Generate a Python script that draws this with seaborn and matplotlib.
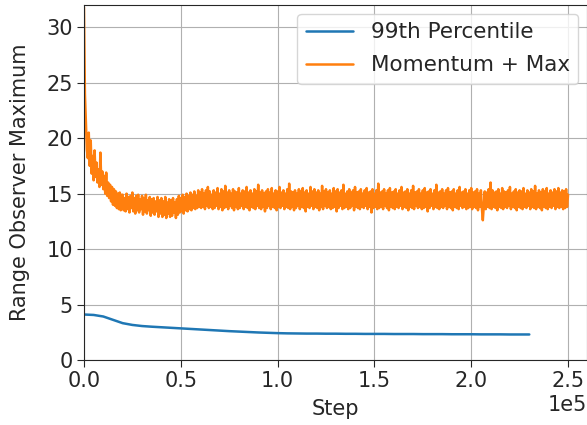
import numpy as np
import pandas as pd
import matplotlib.pyplot as plt
import seaborn as sns

# 99th percentile observer, sampled every 5k steps up to 230k
pct_steps = np.arange(0, 230001, 5000)
pct_values = [4.10, 4.06, 3.92, 3.62, 3.32, 3.16, 3.06, 3.00, 2.95, 2.90,
              2.85, 2.80, 2.75, 2.70, 2.65, 2.60, 2.56, 2.52, 2.48, 2.45,
              2.42, 2.40, 2.39, 2.38, 2.38, 2.37, 2.37, 2.36, 2.36, 2.35,
              2.35, 2.35, 2.34, 2.34, 2.34, 2.33, 2.33, 2.33, 2.32, 2.32,
              2.32, 2.31, 2.31, 2.31, 2.30, 2.30, 2.30]

# momentum + max observer, sampled every 500 steps up to 250k (very noisy)
mom_steps = np.arange(0, 250001, 500)
mom_values = [
    # 0 - 19.5k: fast decay from ~31
    31.8, 24.0, 21.5, 19.0, 18.2, 20.5, 17.5, 19.8, 16.8, 18.4,
    16.2, 18.9, 16.5, 17.8, 16.0, 17.2, 15.6, 18.7, 15.8, 17.0,
    15.4, 16.6, 15.0, 16.9, 14.8, 16.0, 14.6, 15.8, 14.3, 15.6,
    14.0, 15.4, 13.9, 15.2, 13.7, 15.0, 13.6, 15.1, 13.5, 14.9,
    # 20k - 59.5k: small dip around 40k
    14.9, 13.5, 14.6, 13.4, 15.0, 13.6, 14.7, 13.3, 14.8, 13.7,
    15.1, 13.4, 14.6, 13.2, 14.8, 13.5, 14.9, 13.3, 14.5, 13.6,
    14.8, 13.1, 14.6, 13.4, 14.9, 13.2, 14.4, 13.5, 14.7, 13.0,
    14.5, 13.3, 14.6, 13.1, 14.3, 13.4, 14.7, 12.9, 14.4, 13.2,
    14.6, 12.9, 14.3, 13.1, 14.7, 12.8, 14.2, 13.2, 14.5, 12.9,
    14.4, 13.0, 14.6, 13.3, 14.2, 12.8, 14.5, 13.1, 14.8, 13.3,
    14.6, 13.4, 14.9, 13.2, 14.7, 13.5, 15.0, 13.4, 14.8, 13.6,
    15.1, 13.5, 14.9, 13.7, 15.2, 13.6, 14.8, 13.7, 15.3, 13.8,
    # 60k - 250k: plateau around 14.4
    15.1, 13.7, 15.4, 13.8, 15.0, 13.6, 15.3, 13.9, 15.6, 13.7,
    15.2, 13.8, 14.9, 13.6, 15.3, 13.7, 15.1, 13.9, 15.5, 13.6,
    15.0, 13.8, 15.4, 13.5, 15.2, 13.7, 15.7, 13.8, 15.1, 13.6,
    15.3, 13.9, 15.0, 13.7, 15.4, 13.5, 15.2, 13.8, 15.1, 13.6,
    15.5, 13.7, 15.0, 13.9, 15.3, 13.6, 15.2, 13.8, 15.6, 13.7,
    15.1, 13.5, 15.3, 13.8, 15.0, 13.7, 15.4, 13.6, 15.2, 13.9,
    15.8, 13.7, 15.1, 13.6, 15.3, 13.8, 15.0, 13.4, 15.2, 13.7,
    15.4, 13.9, 15.1, 13.6, 15.5, 13.8, 15.0, 13.7, 15.3, 13.5,
    15.2, 13.8, 15.6, 13.7, 15.1, 13.9, 15.3, 13.6, 15.0, 13.8,
    15.4, 13.7, 15.9, 13.6, 15.2, 13.8, 15.1, 13.5, 15.3, 13.7,
    15.0, 13.9, 15.4, 13.6, 15.2, 13.8, 15.5, 13.7, 15.1, 13.4,
    15.3, 13.8, 15.0, 13.7, 15.6, 13.9, 15.2, 13.6, 15.4, 13.8,
    15.1, 13.7, 15.3, 13.5, 15.0, 13.8, 15.7, 13.6, 15.2, 13.9,
    15.4, 13.7, 15.1, 13.8, 15.3, 13.6, 15.0, 13.7, 15.5, 13.8,
    15.2, 13.4, 15.4, 13.7, 15.1, 13.9, 15.3, 13.6, 15.8, 13.7,
    15.0, 13.8, 15.2, 13.6, 15.4, 13.7, 15.1, 13.9, 15.3, 13.5,
    15.6, 13.8, 15.1, 13.7, 15.2, 13.6, 15.4, 13.8, 15.0, 13.7,
    15.3, 13.9, 15.5, 13.6, 15.1, 13.8, 15.2, 13.3, 15.4, 13.7,
    15.0, 13.8, 15.3, 13.6, 15.9, 13.7, 15.1, 13.8, 15.2, 13.6,
    15.4, 13.9, 15.0, 13.7, 15.3, 13.5, 15.5, 13.8, 15.1, 13.7,
    15.2, 13.6, 15.4, 13.8, 15.0, 13.7, 15.3, 13.9, 15.6, 13.6,
    15.1, 13.8, 15.2, 13.7, 15.4, 13.5, 15.0, 13.8, 15.3, 13.7,
    15.7, 13.6, 15.1, 13.9, 15.2, 13.7, 15.4, 13.8, 15.0, 13.6,
    15.3, 13.7, 15.5, 13.8, 15.1, 13.4, 15.2, 13.7, 15.4, 13.9,
    15.0, 13.6, 15.3, 13.8, 15.8, 13.7, 15.1, 13.6, 15.2, 13.8,
    15.4, 13.7, 15.0, 13.9, 15.3, 13.6, 15.5, 13.8, 15.1, 13.7,
    15.2, 13.5, 15.4, 13.8, 15.0, 13.7, 15.3, 13.6, 15.6, 13.9,
    15.1, 13.7, 15.2, 13.8, 15.4, 13.6, 15.0, 13.7, 15.3, 13.8,
    15.5, 13.6, 15.1, 13.8, 15.2, 13.7, 15.4, 13.5, 15.0, 13.8,
    15.3, 13.7, 12.6, 13.9, 15.2, 13.6, 15.1, 13.8, 15.4, 13.7,
    16.0, 13.6, 15.3, 13.8, 15.1, 13.7, 15.2, 13.5, 15.4, 13.8,
    15.0, 13.7, 15.5, 13.6, 15.2, 13.8, 15.1, 13.7, 15.3, 13.9,
    15.6, 13.6, 15.0, 13.8, 15.2, 13.7, 15.4, 13.5, 15.1, 13.8,
    15.3, 13.7, 15.2, 13.6, 15.5, 13.8, 15.0, 13.7, 15.3, 13.9,
    15.1, 13.6, 15.4, 13.8, 15.2, 13.7, 15.7, 13.6, 15.0, 13.8,
    15.3, 13.7, 15.1, 13.5, 15.4, 13.8, 15.2, 13.7, 15.5, 13.6,
    15.0, 13.8, 15.3, 13.7, 15.1, 13.9, 15.4, 13.6, 15.2, 13.8,
    15.5, 13.7, 15.1, 13.8, 15.3, 13.6, 15.2, 13.7, 15.4, 13.8,
    14.9,
]

labels = ["99th Percentile", "Momentum + Max"]

df = pd.concat([
    pd.DataFrame({"Step": pct_steps, "value": pct_values, "observer": labels[0]}),
    pd.DataFrame({"Step": mom_steps, "value": mom_values, "observer": labels[1]}),
])

sns.set_style("ticks", {"axes.grid": True, "grid.color": "#b0b0b0"})
plt.rcParams["font.family"] = ["DejaVu Sans"]
fs = 15

fig, ax = plt.subplots(figsize=(5.87, 4.25), dpi=100)
sns.lineplot(data=df, x="Step", y="value", hue="observer", estimator=None,
             palette=["tab:blue", "tab:orange"], linewidth=1.8, ax=ax)

# the original figure is cropped on the right, just past 2.5e5
ax.set_xlim(0, 2.598e5)
ax.set_ylim(0, 32)
ax.set_xticks([0, 0.5e5, 1.0e5, 1.5e5, 2.0e5, 2.5e5])
ax.ticklabel_format(axis="x", style="sci", scilimits=(0, 0))
ax.set_xlabel("Step", fontsize=fs, labelpad=6)
ax.set_ylabel("Range Observer Maximum", fontsize=fs, labelpad=12)
ax.tick_params(labelsize=fs, length=5, pad=3)
ax.xaxis.get_offset_text().set_fontsize(fs)
ax.legend(title=None, loc="upper right", fontsize=15.5, borderaxespad=0.4,
          handlelength=2.2, labelspacing=0.6)

plt.subplots_adjust(left=0.143, right=1.0, bottom=0.153, top=0.988)
plt.savefig("out.png")
